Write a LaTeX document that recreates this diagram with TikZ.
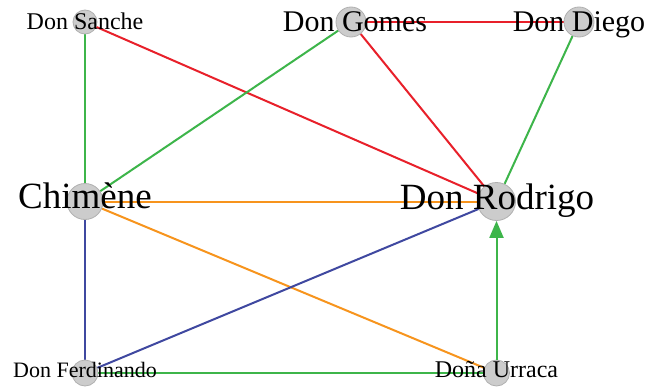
\documentclass[tikz,border=0pt]{standalone}
\usepackage{fontspec}
\setmainfont{Liberation Serif}
\usetikzlibrary{arrows.meta}
\definecolor{eg}{HTML}{3DB54A}
\definecolor{er}{HTML}{E8202A}
\definecolor{eo}{HTML}{F7941D}
\definecolor{eb}{HTML}{3F48A0}
\definecolor{vfill}{HTML}{CCCCCC}
\definecolor{vdraw}{HTML}{B0B0B0}
\pgfdeclarelayer{bg}
\pgfsetlayers{bg,main}
\begin{document}
\begin{tikzpicture}[x=1pt,y=-1pt,
  vtx/.style={circle,fill=vfill,draw=vdraw,line width=0.8pt,inner sep=0pt},
  lbl/.style={anchor=base,inner sep=0pt,text=black},
  edge/.style={line width=2pt}]
\useasboundingbox (0,0) rectangle (648,388);
% vertices
\node[vtx,minimum size=24pt] (sa) at (85,22) {};
\node[vtx,minimum size=30pt] (go) at (351,22) {};
\node[vtx,minimum size=30pt] (di) at (579,22) {};
\node[vtx,minimum size=36pt] (ch) at (85,201.5) {};
\node[vtx,minimum size=38pt] (ro) at (496.5,201.5) {};
\node[vtx,minimum size=26pt] (fe) at (85,373) {};
\node[vtx,minimum size=26pt] (ur) at (496.5,373) {};
% edges
\begin{pgfonlayer}{bg}
\fill[white] (0,0) rectangle (648,388);
\draw[edge,eg] (sa) -- (ch);
\draw[edge,er] (sa) -- (ro);
\draw[edge,er] (go) -- (di);
\draw[edge,er] (go) -- (ro);
\draw[edge,eg] (go) -- (ch);
\draw[edge,eg] (di) -- (ro);
\draw[edge,eo] (ch) -- (ro);
\draw[edge,eo] (ch) -- (ur);
\draw[edge,eb] (ch) -- (fe);
\draw[edge,eb] (fe) -- (ro);
\draw[edge,eg] (fe) -- (ur);
\end{pgfonlayer}
\draw[edge,eg,-{Triangle[length=17pt,width=14pt]}] (ur) -- (ro);
% labels
\node[lbl,font=\fontsize{24}{24}\selectfont] (tsa) at (85,29.5) {Don Sanche};
\node[lbl,font=\fontsize{30}{30}\selectfont] (tgo) at (355,31) {Don Gomes};
\node[lbl,font=\fontsize{30}{30}\selectfont] (tdi) at (579,31) {Don Diego};
\node[lbl,font=\fontsize{37}{37}\selectfont] (tch) at (85,208) {Chimène};
\node[lbl,font=\fontsize{37}{37}\selectfont] (tro) at (497,209) {Don Rodrigo};
\node[lbl,font=\fontsize{22}{22}\selectfont] (tfe) at (85,377) {Don Ferdinando};
\node[lbl,font=\fontsize{24}{24}\selectfont] (tur) at (496.5,377) {Doña Urraca};
\end{tikzpicture}
\end{document}
